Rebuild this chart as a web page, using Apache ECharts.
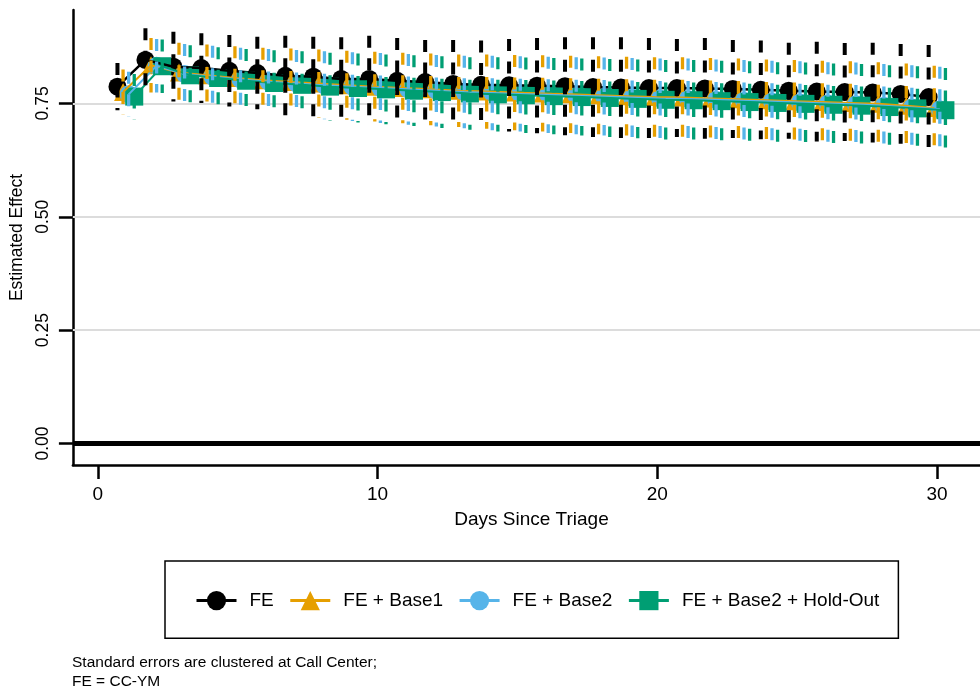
<!DOCTYPE html>
<html><head><meta charset="utf-8">
<script src="https://cdn.jsdelivr.net/npm/echarts@6/dist/echarts.min.js"></script>
<style>html,body{margin:0;padding:0;background:#fff}#c{width:980px;height:692px}</style>
</head><body><div id="c"></div>
<script>
// ---- data ----
const days = [1,2,3,4,5,6,7,8,9,10,11,12,13,14,15,16,17,18,19,20,21,22,23,24,25,26,27,28,29,30];
const xTicks = [0, 10, 20, 30];
const yTicks = [0, 0.25, 0.5, 0.75];
const seriesNames = ['FE', 'FE + Base1', 'FE + Base2', 'FE + Base2 + Hold-Out'];

const fe   = [0.787,0.846,0.831,0.828,0.822,0.817,0.811,0.809,0.804,0.804,0.800,0.797,0.793,0.791,0.790,0.789,0.788,0.786,0.785,0.784,0.784,0.783,0.782,0.780,0.778,0.776,0.775,0.774,0.771,0.764];
const feHi = [0.839,0.916,0.908,0.905,0.901,0.897,0.899,0.897,0.896,0.899,0.894,0.890,0.890,0.889,0.892,0.894,0.896,0.896,0.896,0.894,0.892,0.894,0.890,0.889,0.884,0.886,0.883,0.884,0.881,0.879];
const feLo = [0.735,0.776,0.754,0.751,0.743,0.737,0.723,0.721,0.712,0.709,0.706,0.704,0.696,0.693,0.688,0.684,0.680,0.676,0.674,0.674,0.676,0.672,0.674,0.671,0.672,0.666,0.667,0.664,0.661,0.649];

const b1   = [0.775,0.834,0.818,0.812,0.806,0.801,0.797,0.794,0.790,0.787,0.784,0.781,0.778,0.776,0.774,0.772,0.770,0.768,0.766,0.764,0.763,0.761,0.759,0.757,0.755,0.753,0.751,0.749,0.745,0.740];
const b1Hi = [0.825,0.894,0.884,0.880,0.876,0.873,0.871,0.869,0.866,0.864,0.862,0.860,0.858,0.858,0.857,0.856,0.855,0.854,0.853,0.852,0.852,0.850,0.849,0.847,0.846,0.844,0.843,0.841,0.838,0.833];
const b1Lo = [0.725,0.774,0.752,0.744,0.736,0.729,0.723,0.719,0.714,0.710,0.706,0.702,0.698,0.694,0.691,0.688,0.685,0.682,0.679,0.676,0.674,0.672,0.669,0.667,0.664,0.662,0.659,0.657,0.652,0.647];

const b2   = [0.770,0.833,0.815,0.809,0.803,0.798,0.794,0.790,0.787,0.784,0.781,0.778,0.775,0.773,0.771,0.769,0.767,0.765,0.763,0.761,0.760,0.758,0.756,0.754,0.752,0.750,0.748,0.745,0.741,0.737];
const b2Hi = [0.820,0.892,0.881,0.877,0.873,0.870,0.868,0.865,0.863,0.861,0.859,0.857,0.855,0.855,0.854,0.853,0.852,0.851,0.850,0.849,0.849,0.847,0.846,0.844,0.843,0.841,0.840,0.837,0.834,0.831];
const b2Lo = [0.720,0.774,0.749,0.741,0.733,0.726,0.720,0.715,0.711,0.707,0.703,0.699,0.695,0.691,0.688,0.685,0.682,0.679,0.676,0.673,0.671,0.669,0.666,0.664,0.661,0.659,0.656,0.653,0.648,0.643];

const ho   = [0.765,0.832,0.812,0.806,0.800,0.795,0.791,0.787,0.784,0.781,0.778,0.775,0.772,0.770,0.768,0.766,0.764,0.762,0.760,0.758,0.757,0.755,0.753,0.751,0.749,0.747,0.745,0.742,0.739,0.735];
const hoHi = [0.815,0.891,0.878,0.874,0.870,0.867,0.865,0.862,0.860,0.858,0.856,0.854,0.852,0.852,0.851,0.850,0.849,0.848,0.847,0.846,0.846,0.844,0.843,0.841,0.840,0.838,0.837,0.834,0.832,0.828];
const hoLo = [0.715,0.773,0.746,0.738,0.730,0.723,0.717,0.712,0.708,0.704,0.700,0.696,0.692,0.688,0.685,0.682,0.679,0.676,0.673,0.670,0.668,0.666,0.663,0.661,0.658,0.656,0.653,0.650,0.646,0.642];

const noteText = 'Standard errors are clustered at Call Center;\nFE = CC-YM';

// ---- styles ----
const FONT = '"Liberation Sans", Arial, Helvetica, sans-serif';
const models = [
  {val: fe, lo: feLo, hi: feHi, color: '#000000', symbol: 'circle',   size: 18, lw: 2.5, ciw: 4,   off: -0.3},
  {val: b1, lo: b1Lo, hi: b1Hi, color: '#E69F00', symbol: 'triangle', size: 18, lw: 2,   ciw: 3.3, off: -0.1},
  {val: b2, lo: b2Lo, hi: b2Hi, color: '#56B4E9', symbol: 'circle',   size: 18, lw: 2,   ciw: 3.3, off: 0.1},
  {val: ho, lo: hoLo, hi: hoHi, color: '#009E73', symbol: 'rect',     size: 18, lw: 2,   ciw: 3.3, off: 0.3}
];

const series = [];
// connecting lines (first, so legend takes their line+symbol icon), drawn above markers
models.forEach((m, k) => {
  series.push({
    type: 'line', name: seriesNames[k],
    data: days.map((d, i) => [d + m.off, m.val[i]]),
    symbol: m.symbol, symbolSize: m.size, showSymbol: false,
    lineStyle: {color: m.color, width: m.lw},
    itemStyle: {color: m.color},
    z: 3, silent: true, animation: false
  });
});
// markers
models.forEach((m, k) => {
  const s = {
    type: 'scatter', name: seriesNames[k],
    data: days.map((d, i) => [d + m.off, m.val[i]]),
    symbol: m.symbol, symbolSize: m.size,
    itemStyle: {color: m.color, opacity: 1},
    z: 2, silent: true, animation: false
  };
  if (k === 0) {
    s.markLine = {
      silent: true, symbol: 'none', z: 1, animation: false,
      label: {show: false},
      data: yTicks.map(v => ({
        yAxis: v,
        lineStyle: v === 0 ? {color: '#000', width: 5, type: 'solid'} : {color: '#dcdcdc', width: 2, type: 'solid'}
      }))
    };
  }
  series.push(s);
});
// confidence intervals (dashed vertical lines), on top
models.forEach((m, k) => {
  series.push({
    type: 'custom', name: seriesNames[k],
    data: days.map((d, i) => [d + m.off, m.lo[i], m.hi[i]]),
    encode: {x: 0, y: [1, 2]},
    z: 4, silent: true, animation: false,
    itemStyle: {color: m.color},
    renderItem: function (params, api) {
      const x = api.value(0);
      const t = api.coord([x, api.value(2)]);
      const b = api.coord([x, api.value(1)]);
      return {
        type: 'line',
        shape: {x1: t[0], y1: t[1], x2: b[0], y2: b[1]},
        style: {stroke: m.color, lineWidth: m.ciw, lineDash: [12, 10.5], lineCap: 'butt'}
      };
    }
  });
});

const chart = echarts.init(document.getElementById('c'), null, {renderer: 'canvas'});
chart.setOption({
  animation: false,
  backgroundColor: '#ffffff',
  textStyle: {fontFamily: FONT},
  title: {
    text: noteText, left: 72, top: 653, padding: 0,
    textStyle: {fontSize: 15.5, fontWeight: 'normal', color: '#000', lineHeight: 19, fontFamily: FONT}
  },
  legend: {
    data: seriesNames, left: 165, top: 561, orient: 'horizontal',
    itemWidth: 40, itemHeight: 24, itemGap: 15,
    padding: [30, 19, 28, 30],
    borderColor: '#000', borderWidth: 1.5,
    selectedMode: false,
    lineStyle: {width: 3},
    textStyle: {fontSize: 19, color: '#000', fontFamily: FONT, padding: [0, 0, 0, 8]}
  },
  grid: {left: 72, right: 0, top: 10, bottom: 227, containLabel: false},
  xAxis: {
    type: 'value', min: -0.893, max: 31.536,
    name: 'Days Since Triage', nameLocation: 'middle', nameGap: 45,
    nameTextStyle: {fontSize: 19, color: '#000', fontFamily: FONT, padding: [0, 0, 0, 10]},
    axisLine: {show: true, onZero: false, lineStyle: {color: '#000', width: 2.5}},
    axisTick: {show: true, customValues: xTicks, length: 14, lineStyle: {color: '#000', width: 2.5}},
    axisLabel: {show: true, customValues: xTicks, margin: 20, fontSize: 19, color: '#000', fontFamily: FONT},
    splitLine: {show: false}
  },
  yAxis: {
    type: 'value', min: -0.0474, max: 0.956,
    name: 'Estimated Effect', nameLocation: 'middle', nameGap: 44,
    nameTextStyle: {fontSize: 17.5, color: '#000', fontFamily: FONT},
    axisLine: {show: true, onZero: false, lineStyle: {color: '#000', width: 2.5}},
    axisTick: {show: true, customValues: yTicks, length: 14, lineStyle: {color: '#000', width: 2.5}},
    axisLabel: {show: true, customValues: yTicks, rotate: 90, margin: 21, fontSize: 17.5, color: '#000', fontFamily: FONT,
      formatter: v => Number(v).toFixed(2)},
    splitLine: {show: false}
  },
  series: series
});
</script>
</body></html>
